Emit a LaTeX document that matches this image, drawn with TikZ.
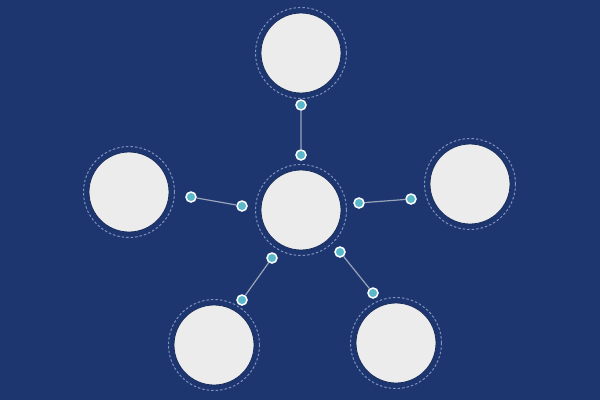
\documentclass[tikz,border=0pt]{standalone}
\usepackage{tikz}
\usetikzlibrary{positioning}

\definecolor{navy}{HTML}{1D3670}
\definecolor{disc}{HTML}{ECECEC}
\definecolor{ring}{HTML}{7F92BC}
\definecolor{dotfill}{HTML}{5BB8CA}
\definecolor{link}{HTML}{9AA3B8}

\begin{document}
\begin{tikzpicture}[x=1pt,y=-1pt,
  main node/.style={circle,fill=disc,draw=navy!80!black,line width=0.8pt,minimum size=80pt,inner sep=0pt},
  halo/.style={circle,draw=ring,dash pattern=on 2.5pt off 2pt,line width=1pt,minimum size=91pt,inner sep=0pt},
  dot/.style={circle,fill=dotfill,draw=white,line width=1.5pt,minimum size=10pt,inner sep=0pt},
  link/.style={draw=link,line width=1.2pt}]
  \fill[navy] (0,0) rectangle (600,400);
  \useasboundingbox (0,0) rectangle (600,400);
  % discs
  \foreach \name/\x/\y in {c/301/210,t/301/53,l/129/192,r/470/184,bl/214/345,br/396/343}{
    \node[halo] at (\x,\y) {};
    \node[main node] (\name) at (\x,\y) {};
  }
  % connector dots
  \node[dot] (t1) at (301,105) {};
  \node[dot] (t2) at (301,155) {};
  \node[dot] (l1) at (191,197) {};
  \node[dot] (l2) at (242,206) {};
  \node[dot] (r1) at (359,203) {};
  \node[dot] (r2) at (411,199) {};
  \node[dot] (bl1) at (272,258) {};
  \node[dot] (bl2) at (242,300) {};
  \node[dot] (br1) at (340,252) {};
  \node[dot] (br2) at (373,293) {};
  \path[link]
    (t1) -- (t2)
    (l1) -- (l2)
    (r1) -- (r2)
    (bl1) -- (bl2)
    (br1) -- (br2);
\end{tikzpicture}
\end{document}
